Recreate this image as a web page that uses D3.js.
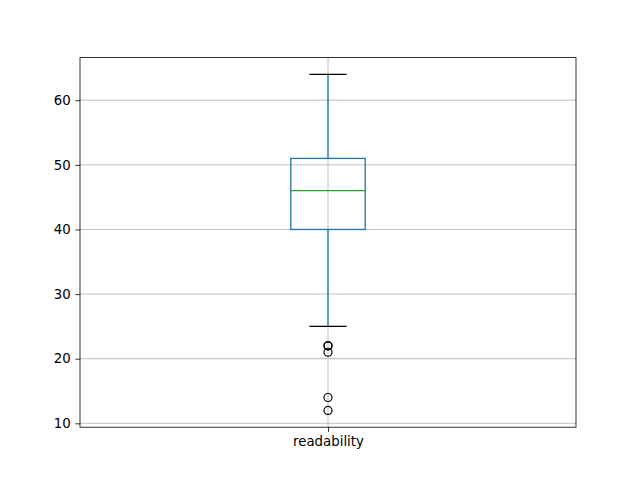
<!DOCTYPE html>
<html><head><meta charset="utf-8">
<script src="https://cdn.jsdelivr.net/npm/d3@7"></script>
<style>body{margin:0;background:#fff}svg{display:block}text{font-family:"DejaVu Sans",sans-serif;font-size:13.33px;fill:#000}</style>
</head><body><svg id="c" width="640" height="480"></svg>
<script>
const categories = ["readability"];
const q1 = [40], median = [46], q3 = [51], whiskLo = [25], whiskHi = [64];
const outliers = [[22, 22, 21, 14, 12]];
const yTicks = [10, 20, 30, 40, 50, 60];

const svg = d3.select("#c");
const L = 80, R = 576, T = 57.6, B = 427.2;
const allVals = [...whiskLo, ...whiskHi, ...outliers.flat()];
const lo = d3.min(allVals), hi = d3.max(allVals), pad = (hi - lo) * 0.05;
const y = d3.scaleLinear().domain([lo - pad, hi + pad]).range([B, T]);
const x = d3.scaleLinear().domain([0.5, categories.length + 0.5]).range([L, R]);
const bw = 0.15, cw = 0.0375, lw = 1.33;

// grid
const g = svg.append("g");
yTicks.forEach(t => g.append("line").attr("x1", L).attr("x2", R).attr("y1", y(t)).attr("y2", y(t)).attr("stroke", "#b0b0b0").attr("stroke-width", 0.8));
categories.forEach((c, i) => g.append("line").attr("x1", x(i + 1)).attr("x2", x(i + 1)).attr("y1", T).attr("y2", B).attr("stroke", "#b0b0b0").attr("stroke-width", 0.8));

categories.forEach((c, i) => {
  const cx = x(i + 1);
  const blue = "#1f77b4";
  svg.append("line").attr("x1", cx).attr("x2", cx).attr("y1", y(q1[i])).attr("y2", y(whiskLo[i])).attr("stroke", blue).attr("stroke-width", lw);
  svg.append("line").attr("x1", cx).attr("x2", cx).attr("y1", y(q3[i])).attr("y2", y(whiskHi[i])).attr("stroke", blue).attr("stroke-width", lw);
  [whiskLo[i], whiskHi[i]].forEach(v => svg.append("line").attr("x1", x(i + 1 - cw)).attr("x2", x(i + 1 + cw)).attr("y1", y(v)).attr("y2", y(v)).attr("stroke", "#000").attr("stroke-width", lw));
  svg.append("rect").attr("x", x(i + 1 - bw / 2)).attr("width", x(i + 1 + bw / 2) - x(i + 1 - bw / 2))
    .attr("y", y(q3[i])).attr("height", y(q1[i]) - y(q3[i])).attr("fill", "none").attr("stroke", blue).attr("stroke-width", lw);
  svg.append("line").attr("x1", x(i + 1 - bw / 2)).attr("x2", x(i + 1 + bw / 2)).attr("y1", y(median[i])).attr("y2", y(median[i])).attr("stroke", "#2ca02c").attr("stroke-width", lw);
  outliers[i].forEach(v => svg.append("circle").attr("cx", cx).attr("cy", y(v)).attr("r", 4).attr("fill", "none").attr("stroke", "#000").attr("stroke-width", 1.2));
});

// axes
const ya = svg.append("g").attr("transform", `translate(${L},0)`).call(d3.axisLeft(y).tickValues(yTicks).tickSize(4.67).tickPadding(4.67));
const xa = svg.append("g").attr("transform", `translate(0,${B})`).call(d3.axisBottom(x).tickValues(categories.map((c, i) => i + 1)).tickFormat((d) => categories[d - 1]).tickSize(4.67).tickPadding(4.67));
[ya, xa].forEach(a => { a.select(".domain").remove(); a.selectAll("text").attr("font-family", "DejaVu Sans").attr("font-size", 13.33).attr("fill", "#000"); a.selectAll("line").attr("stroke", "#000").attr("stroke-width", 0.8); });
svg.append("rect").attr("x", L).attr("y", T).attr("width", R - L).attr("height", B - T).attr("fill", "none").attr("stroke", "#000").attr("stroke-width", 0.8);
</script></body></html>
